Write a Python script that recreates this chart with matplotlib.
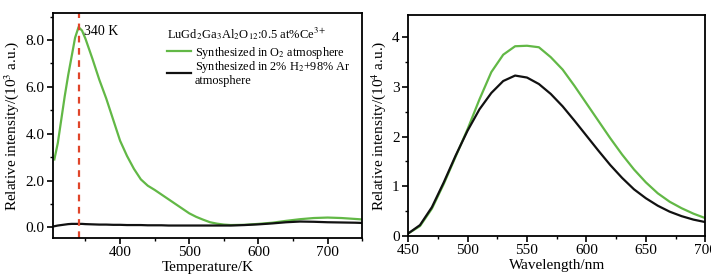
import matplotlib
matplotlib.use("Agg")
import matplotlib.pyplot as plt
from matplotlib.ticker import MultipleLocator

plt.rcParams['font.family'] = ['Liberation Serif', 'DejaVu Serif']
plt.rcParams['mathtext.fontset'] = 'stix'

# thermoluminescence curves (left panel)
temp_k = [305, 310, 315, 320, 325, 330, 335, 340, 345, 350, 360, 370, 380, 390, 400,
          410, 420, 430, 440, 450, 460, 470, 480, 490, 500, 510, 520, 530, 540, 550,
          560, 580, 600, 620, 640, 660, 680, 700, 720, 740, 750]
tl_o2 = [2.9, 3.6, 4.6, 5.6, 6.5, 7.3, 8.1, 8.55, 8.4, 8.05, 7.2, 6.3, 5.5, 4.6, 3.7,
         3.05, 2.5, 2.05, 1.78, 1.6, 1.4, 1.2, 1.0, 0.8, 0.6, 0.45, 0.33, 0.22, 0.16, 0.12,
         0.1, 0.11, 0.15, 0.2, 0.28, 0.35, 0.4, 0.42, 0.4, 0.36, 0.34]
tl_h2ar = [0.05, 0.08, 0.1, 0.12, 0.14, 0.15, 0.15, 0.15, 0.15, 0.14, 0.13, 0.12, 0.12, 0.11, 0.11,
           0.1, 0.1, 0.1, 0.09, 0.09, 0.09, 0.08, 0.08, 0.08, 0.08, 0.08, 0.08, 0.08, 0.08, 0.08,
           0.08, 0.1, 0.13, 0.17, 0.22, 0.25, 0.24, 0.22, 0.21, 0.2, 0.19]
peak_temp = 340

# emission spectra (right panel)
wavelength = [450, 460, 470, 480, 490, 500, 510, 520, 530, 540, 550, 560, 570, 580, 590,
              600, 610, 620, 630, 640, 650, 660, 670, 680, 690, 700]
pl_o2 = [0.05, 0.2, 0.55, 1.05, 1.6, 2.15, 2.75, 3.3, 3.65, 3.82, 3.83, 3.8, 3.6, 3.35, 3.02,
         2.67, 2.32, 1.97, 1.64, 1.34, 1.08, 0.86, 0.69, 0.56, 0.45, 0.36]
pl_h2ar = [0.05, 0.22, 0.58, 1.08, 1.62, 2.12, 2.55, 2.88, 3.12, 3.23, 3.19, 3.06, 2.86, 2.61, 2.32,
           2.02, 1.72, 1.43, 1.17, 0.94, 0.76, 0.61, 0.49, 0.4, 0.33, 0.28]

green = '#62b846'
black = '#111111'
red = '#e0452a'

fig = plt.figure(figsize=(7.11, 2.77), dpi=100)
ax1 = fig.add_axes([0.0745, 0.141, 0.435, 0.812])
ax2 = fig.add_axes([0.574, 0.148, 0.418, 0.798])

# left panel
ax1.plot(temp_k, tl_o2, color=green, lw=1.6, label='Synthesized in O$_2$ atmosphere')
ax1.plot(temp_k, tl_h2ar, color=black, lw=1.6,
         label='Synthesized in 2% H$_2$+98% Ar\natmosphere')
ax1.axvline(peak_temp, color=red, lw=1.6, ls=(0, (3, 2.5)))
ax1.text(peak_temp + 8, 8.2, '%d K' % peak_temp, fontsize=10)
ax1.set_xlim(303, 750)
ax1.set_ylim(-0.45, 9.15)
ax1.xaxis.set_major_locator(MultipleLocator(100))
ax1.xaxis.set_minor_locator(MultipleLocator(50))
ax1.yaxis.set_major_locator(MultipleLocator(2))
ax1.yaxis.set_minor_locator(MultipleLocator(1))
ax1.yaxis.set_major_formatter(lambda v, p: '%.1f' % v)
ax1.set_xlabel('Temperature/K', fontsize=11, labelpad=1)
ax1.set_ylabel('Relative intensity/(10$^3$ a.u.)', fontsize=11, labelpad=3)
leg = ax1.legend(loc='upper left', bbox_to_anchor=(0.34, 0.985), frameon=False, fontsize=8.8,
                 title='LuGd$_2$Ga$_3$Al$_2$O$_{12}$:0.5 at%Ce$^{3+}$', title_fontsize=9,
                 handlelength=2.0, handletextpad=0.3, labelspacing=-0.1, borderpad=0.2)
leg._legend_box.align = 'left'
leg._legend_box.sep = 2
for t in leg.get_texts():
    t.set_linespacing(0.95)

# right panel
ax2.plot(wavelength, pl_o2, color=green, lw=1.6)
ax2.plot(wavelength, pl_h2ar, color=black, lw=1.6)
ax2.set_xlim(450, 700)
ax2.set_ylim(0, 4.45)
ax2.xaxis.set_major_locator(MultipleLocator(50))
ax2.xaxis.set_minor_locator(MultipleLocator(25))
ax2.yaxis.set_major_locator(MultipleLocator(1))
ax2.yaxis.set_minor_locator(MultipleLocator(0.5))
ax2.set_xlabel('Wavelength/nm', fontsize=11, labelpad=1)
ax2.set_ylabel('Relative intensity/(10$^4$ a.u.)', fontsize=11, labelpad=3)

for ax in (ax1, ax2):
    for sp in ax.spines.values():
        sp.set_linewidth(1.3)
    ax.tick_params(which='major', direction='out', length=4, width=1.2, labelsize=11, pad=2)
    ax.tick_params(which='minor', direction='out', length=2.5, width=1.0)

fig.savefig('out.png', dpi=100)
